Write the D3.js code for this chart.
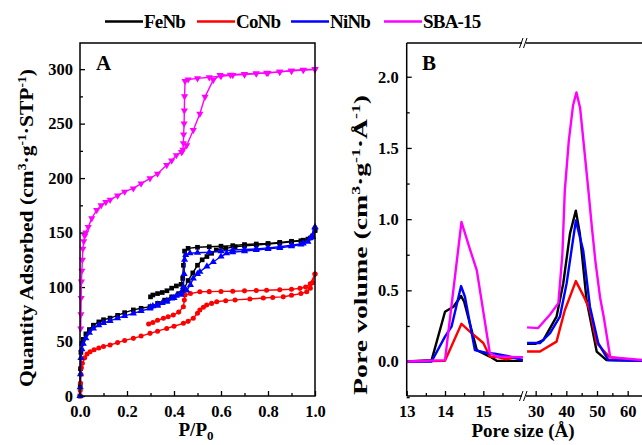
<!DOCTYPE html>
<html><head><meta charset="utf-8">
<script src="https://cdn.jsdelivr.net/npm/d3@7"></script>
<style>
body{margin:0;background:#fff}
svg{display:block}
text{font-family:"Liberation Serif","Times New Roman",serif;font-weight:bold;fill:#000}
</style>
</head><body><svg id="c" width="642" height="445"></svg>
<script>
// ---------- data ----------
const seriesNames = ["FeNb", "CoNb", "NiNb", "SBA-15"];
const seriesColors = ["#000000", "#ff0000", "#0000ff", "#ff00ff"];

// Panel A: isotherms [P/P0, quantity adsorbed]
const feNbAds = [[0,0],[0.001,10],[0.002,25],[0.004,40],[0.008,48],[0.014,52],[0.025,57],[0.04,61],[0.057,65],[0.08,68],[0.1,70],[0.128,71.5],[0.16,74],[0.19,76.5],[0.227,79],[0.26,80.5],[0.298,82],[0.33,85],[0.36,88],[0.39,91],[0.42,94],[0.44,97],[0.46,106],[0.48,113],[0.5,120],[0.52,125],[0.54,128],[0.56,131],[0.58,134],[0.62,135.5],[0.66,137],[0.7,137.8],[0.75,138.5],[0.8,139.5],[0.85,140.3],[0.9,141.5],[0.94,142.5],[0.97,144],[0.99,147],[1.0,152]];
const feNbDes = [[1.0,152],[0.98,145],[0.95,143],[0.9,142],[0.85,141],[0.8,140],[0.75,139.5],[0.7,139],[0.65,138],[0.6,137.5],[0.55,137],[0.5,136.5],[0.46,135.5],[0.445,133],[0.44,120],[0.437,108],[0.43,102.5],[0.41,101],[0.39,99],[0.37,96.6],[0.35,95],[0.33,94],[0.31,92.7],[0.3,91]];
const coNbAds = [[0,0],[0.001,5],[0.002,12],[0.004,20],[0.006,26],[0.01,30],[0.02,35],[0.03,38.5],[0.043,40.7],[0.06,42.5],[0.08,44],[0.1,45.5],[0.128,46.8],[0.16,49],[0.19,51],[0.227,52.9],[0.26,55],[0.298,57.5],[0.33,59.5],[0.369,62],[0.4,64],[0.44,66.7],[0.46,68.5],[0.482,71.3],[0.5,76],[0.51,79],[0.525,81.5],[0.539,83.5],[0.56,85],[0.582,86.5],[0.62,87.5],[0.66,88.2],[0.723,89],[0.78,90],[0.82,90.5],[0.865,91],[0.9,92.5],[0.94,94],[0.965,95.7],[0.98,99],[0.99,104],[1.0,112]];
const coNbDes = [[1.0,112],[0.98,103],[0.96,100],[0.936,98.8],[0.9,98],[0.85,97.5],[0.794,97],[0.75,96.8],[0.7,96.5],[0.65,96.2],[0.6,96],[0.55,95.8],[0.51,95.7],[0.47,94],[0.447,92.7],[0.444,88],[0.44,82],[0.42,77],[0.397,74.3],[0.375,72.8],[0.355,71.3],[0.33,69.5],[0.31,67.5],[0.292,66]];
const niNbAds = [[0,0],[0.001,8],[0.002,20],[0.004,35],[0.008,43],[0.014,48],[0.025,53],[0.04,58],[0.057,62],[0.08,65],[0.1,67],[0.128,69],[0.16,71.5],[0.19,73.5],[0.227,75.8],[0.26,78],[0.298,80.4],[0.33,83],[0.369,86.5],[0.4,90],[0.43,93],[0.454,97],[0.47,102],[0.482,108],[0.5,112],[0.51,114],[0.54,119],[0.567,123],[0.6,128],[0.624,131],[0.65,132],[0.7,133],[0.75,134],[0.8,135],[0.85,136],[0.9,137.5],[0.94,139],[0.97,141.6],[0.99,146],[1.0,155]];
const niNbDes = [[1.0,155],[0.98,145],[0.95,140],[0.9,138.5],[0.85,137],[0.8,136],[0.75,135],[0.7,134.5],[0.65,134],[0.6,133],[0.55,132],[0.5,131.5],[0.468,131],[0.45,129.4],[0.445,125],[0.443,112],[0.44,100],[0.43,95],[0.41,92],[0.39,89.5],[0.37,87.5],[0.35,85.5],[0.33,84],[0.31,82.5],[0.3,81.5]];
const sbaAds = [[0.003,62],[0.004,75],[0.005,90],[0.006,105],[0.008,115],[0.01,125],[0.012,135],[0.016,142],[0.02,147],[0.025,150],[0.035,155],[0.05,163],[0.071,170.6],[0.09,175],[0.11,178],[0.128,180],[0.16,184],[0.19,187.5],[0.227,190.5],[0.26,195],[0.298,199.7],[0.33,204],[0.369,212],[0.39,216],[0.41,221],[0.433,224],[0.454,230],[0.482,244],[0.51,259],[0.532,274.6],[0.567,290],[0.596,294.5],[0.64,294.8],[0.7,295.5],[0.75,296],[0.794,296.6],[0.85,297.5],[0.9,298.5],[0.95,299.2],[1.0,299.7]];
const sbaDes = [[1.0,300],[0.95,299.5],[0.9,298.5],[0.85,297.5],[0.8,296.5],[0.75,296],[0.7,295],[0.65,294.5],[0.6,293.5],[0.55,292.5],[0.5,291.5],[0.46,290.5],[0.447,289],[0.445,275],[0.444,262],[0.443,250],[0.441,240],[0.44,232],[0.438,226],[0.433,224]];

// Panel B: pore size distribution [pore size (Å), pore volume]
const feNbPoreLow = [[13,0],[13.65,0.01],[14.0,0.35],[14.22,0.385],[14.42,0.46],[14.5,0.42],[14.83,0.08],[15.17,0.035],[15.35,0.005],[16.03,0.005]];
const feNbPoreHigh = [[27.2,0.124],[29.8,0.124],[32.5,0.15],[36.8,0.315],[39.0,0.55],[41.2,0.9],[43.1,1.06],[44.4,0.9],[46.6,0.43],[49.9,0.07],[53.1,0.01],[65,0.005]];
const coNbPoreLow = [[13,0],[14.0,0.005],[14.43,0.265],[14.65,0.21],[15.0,0.13],[15.17,0.035],[15.4,0.03],[15.6,0.015],[15.8,0.03],[16.03,0.03]];
const coNbPoreHigh = [[27.2,0.07],[31.4,0.07],[36.8,0.14],[39.5,0.36],[43.1,0.565],[45.5,0.465],[47.7,0.36],[49.9,0.13],[54.1,0.03],[58.5,0.02],[61.7,0.005],[65,0.005]];
const niNbPoreLow = [[13,0],[13.65,0.0],[14.0,0.175],[14.17,0.245],[14.42,0.53],[14.52,0.455],[14.78,0.08],[15.09,0.06],[15.3,0.055],[15.7,0.035],[16.03,0.01]];
const niNbPoreHigh = [[27.2,0.13],[31.4,0.13],[34.7,0.2],[37.9,0.315],[40.1,0.55],[43.1,0.99],[45.5,0.78],[47.7,0.385],[50.4,0.13],[53.7,0.01],[65,0.005]];
const sbaPoreLow = [[13,0],[14.0,0.01],[14.43,0.98],[14.65,0.79],[14.83,0.64],[15.17,0.06],[15.35,0.035],[16.03,0.03]];
const sbaPoreHigh = [[27.2,0.24],[30.8,0.235],[34.7,0.33],[37.4,0.41],[38.7,0.75],[39.5,1.2],[40.8,1.55],[42.2,1.8],[43.3,1.89],[44.5,1.78],[45.8,1.5],[47.2,1.2],[48.3,0.95],[49.5,0.7],[51,0.45],[52.3,0.3],[54.3,0.03],[65,0.01]];

// ticks
const aYTicks = [0, 50, 100, 150, 200, 250, 300];
const aYMinor = [25, 75, 125, 175, 225, 275];
const aXTicks = [0, 0.2, 0.4, 0.6, 0.8, 1.0];
const aXMinor = [0.1, 0.3, 0.5, 0.7, 0.9];
const bYTicks = [0.0, 0.5, 1.0, 1.5, 2.0];
const bYMinor = [-0.25, 0.25, 0.75, 1.25, 1.75];
const bXTicksLow = [13, 14, 15];
const bXMinorLow = [13.5, 14.5, 15.5];
const bXTicksHigh = [30, 40, 50, 60];
const bXMinorHigh = [35, 45, 55];

// ---------- drawing ----------
const svg = d3.select("#c");
const markers = [d3.symbolSquare, d3.symbolCircle, d3.symbolTriangle, d3.symbolTriangle];
const markerRot = [0, 0, 0, 180];

// Panel A scales
const xA = d3.scaleLinear().domain([0, 1]).range([80, 315]);
const yA = d3.scaleLinear().domain([0, 324]).range([396, 43]);

// Panel B scales
const yB = d3.scaleLinear().domain([-0.242, 2.237]).range([396, 43]);
const xBLow = d3.scaleLinear().domain([13, 16.07]).range([406.7, 524.3]);
const xBHigh = d3.scaleLinear().domain([27.5, 64.8]).range([528, 642.4]);

const TICKFS = 16.5;
function styleAxis(g) {
  g.select(".domain").remove();
  g.selectAll(".tick line").attr("stroke", "#000").attr("stroke-width", 1.3);
  g.selectAll(".tick text").style("font-size", TICKFS + "px").style("font-family", '"Liberation Serif",serif').style("font-weight", "bold").attr("fill", "#000");
}

// ---- Panel A axes ----
const gAy = svg.append("g").attr("transform", "translate(80,0)")
  .call(d3.axisLeft(yA).tickValues(aYTicks).tickSize(-5).tickPadding(7).tickFormat(d3.format("d")));
styleAxis(gAy);
const gAym = svg.append("g").attr("transform", "translate(80,0)")
  .call(d3.axisLeft(yA).tickValues(aYMinor).tickSize(-3).tickFormat(""));
styleAxis(gAym);
const gAx = svg.append("g").attr("transform", "translate(0,396)")
  .call(d3.axisBottom(xA).tickValues(aXTicks).tickSize(-5).tickPadding(9).tickFormat(d3.format(".1f")));
styleAxis(gAx);
const gAxm = svg.append("g").attr("transform", "translate(0,396)")
  .call(d3.axisBottom(xA).tickValues(aXMinor).tickSize(-3).tickFormat(""));
styleAxis(gAxm);

// Panel A curves
const lineA = d3.line().x(d => xA(d[0])).y(d => yA(d[1]));
const isoSets = [[feNbAds, feNbDes], [coNbAds, coNbDes], [niNbAds, niNbDes], [sbaAds, sbaDes]];
isoSets.forEach((branches, i) => {
  const g = svg.append("g");
  branches.forEach(br => {
    g.append("path").attr("d", lineA(br)).attr("fill", "none")
      .attr("stroke", seriesColors[i]).attr("stroke-width", 1.4);
    g.selectAll(null).data(br).enter().append("path")
      .attr("d", d3.symbol().type(markers[i]).size(i === 1 ? 20 : 22))
      .attr("transform", d => `translate(${xA(d[0])},${yA(d[1])}) rotate(${markerRot[i]})`)
      .attr("fill", seriesColors[i]);
  });
});

// Panel A frame
svg.append("rect").attr("x", 80).attr("y", 43).attr("width", 235).attr("height", 353)
  .attr("fill", "none").attr("stroke", "#000").attr("stroke-width", 1.5);

svg.append("text").attr("x", 96).attr("y", 70).style("font-size", "21px").text("A");

// A axis titles
svg.append("text").attr("x", 196).attr("y", 436).attr("text-anchor", "middle").style("font-size", "19px")
  .call(t => { t.append("tspan").text("P/P"); t.append("tspan").attr("dy", 4).style("font-size", "13px").text("0"); });
svg.append("text").attr("transform", "translate(33,228) rotate(-90)").attr("text-anchor", "middle")
  .attr("textLength", 318).attr("lengthAdjust", "spacingAndGlyphs").style("font-size", "19px")
  .call(t => {
    t.append("tspan").text("Quantity Adsorbed (cm");
    t.append("tspan").attr("dy", -7).style("font-size", "12px").text("3");
    t.append("tspan").attr("dy", 7).text("·g");
    t.append("tspan").attr("dy", -7).style("font-size", "12px").text("-1");
    t.append("tspan").attr("dy", 7).text("·STP");
    t.append("tspan").attr("dy", -7).style("font-size", "12px").text("-1");
    t.append("tspan").attr("dy", 7).text(")");
  });

// ---- Panel B axes ----
const gBy = svg.append("g").attr("transform", "translate(406.7,0)")
  .call(d3.axisLeft(yB).tickValues(bYTicks).tickSize(-5).tickPadding(8).tickFormat(d3.format(".1f")));
styleAxis(gBy);
const gBym = svg.append("g").attr("transform", "translate(406.7,0)")
  .call(d3.axisLeft(yB).tickValues(bYMinor).tickSize(-3).tickFormat(""));
styleAxis(gBym);
[[xBLow, bXTicksLow, bXMinorLow], [xBHigh, bXTicksHigh, bXMinorHigh]].forEach(([sc, maj, mn]) => {
  const g1 = svg.append("g").attr("transform", "translate(0,396)")
    .call(d3.axisBottom(sc).tickValues(maj).tickSize(-5).tickPadding(9).tickFormat(d3.format("d")));
  styleAxis(g1);
  const g2 = svg.append("g").attr("transform", "translate(0,396)")
    .call(d3.axisBottom(sc).tickValues(mn).tickSize(-3).tickFormat(""));
  styleAxis(g2);
});

// Panel B curves
const poreSets = [[feNbPoreLow, feNbPoreHigh], [coNbPoreLow, coNbPoreHigh], [niNbPoreLow, niNbPoreHigh], [sbaPoreLow, sbaPoreHigh]];
const lineLow = d3.line().x(d => xBLow(d[0])).y(d => yB(d[1]));
const lineHigh = d3.line().x(d => xBHigh(d[0])).y(d => yB(d[1]));
poreSets.forEach((s, i) => {
  svg.append("path").attr("d", lineLow(s[0])).attr("fill", "none").attr("stroke", seriesColors[i]).attr("stroke-width", 2.4).attr("stroke-linejoin", "round");
  svg.append("path").attr("d", lineHigh(s[1])).attr("fill", "none").attr("stroke", seriesColors[i]).attr("stroke-width", 2.4).attr("stroke-linejoin", "round");
});

// Panel B frame (left, top, bottom with breaks)
const fr = svg.append("g").attr("stroke", "#000").attr("stroke-width", 1.5).attr("fill", "none");
fr.append("line").attr("x1", 406.7).attr("x2", 406.7).attr("y1", 43).attr("y2", 396);
fr.append("line").attr("x1", 406.7).attr("x2", 522).attr("y1", 43).attr("y2", 43);
fr.append("line").attr("x1", 526).attr("x2", 642).attr("y1", 43).attr("y2", 43);
fr.append("line").attr("x1", 406.7).attr("x2", 522).attr("y1", 396).attr("y2", 396);
fr.append("line").attr("x1", 526).attr("x2", 642).attr("y1", 396).attr("y2", 396);
[43, 396].forEach(yy => {
  fr.append("line").attr("x1", 519.5).attr("x2", 523).attr("y1", yy + 5).attr("y2", yy - 5).attr("stroke-width", 1);
  fr.append("line").attr("x1", 523.5).attr("x2", 527).attr("y1", yy + 5).attr("y2", yy - 5).attr("stroke-width", 1);
});

svg.append("text").attr("x", 422).attr("y", 70).style("font-size", "21px").text("B");

svg.append("text").attr("x", 523).attr("y", 437).attr("text-anchor", "middle").style("font-size", "19px").text("Pore size (Å)");
svg.append("text").attr("transform", "translate(367,245) rotate(-90)").attr("text-anchor", "middle")
  .attr("textLength", 300).attr("lengthAdjust", "spacingAndGlyphs").style("font-size", "19px")
  .call(t => {
    t.append("tspan").text("Pore volume (cm");
    t.append("tspan").attr("dy", -7).style("font-size", "12px").text("3");
    t.append("tspan").attr("dy", 7).text("·g");
    t.append("tspan").attr("dy", -7).style("font-size", "12px").text("-1");
    t.append("tspan").attr("dy", 7).text("·Å");
    t.append("tspan").attr("dy", -7).style("font-size", "12px").text("-1");
    t.append("tspan").attr("dy", 7).text(")");
  });

// Legend
const legX = [105, 197, 291, 384];
seriesNames.forEach((n, i) => {
  svg.append("line").attr("x1", legX[i]).attr("x2", legX[i] + 38).attr("y1", 21.5).attr("y2", 21.5)
    .attr("stroke", seriesColors[i]).attr("stroke-width", 2.5);
  svg.append("text").attr("x", legX[i] + 39).attr("y", 28).style("font-size", "19px").style("letter-spacing", "-0.8px").text(n);
});
</script>
</body></html>
